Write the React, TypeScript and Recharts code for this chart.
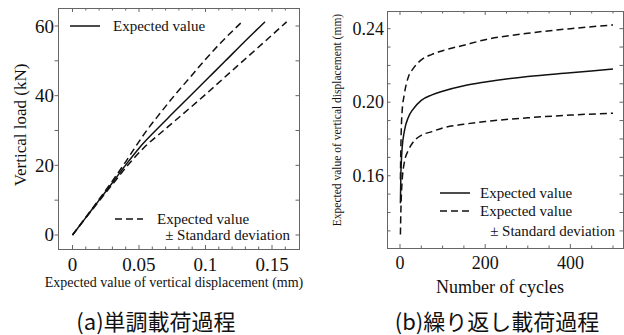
import React from "react";
import { LineChart, Line, XAxis, YAxis } from "recharts";

// (a) monotonic loading: load levels and displacement of each curve
const LOAD_KN = [0, 5, 10, 15, 20, 25, 30, 35, 40, 45, 50, 55, 61.2];
const DISP_MEAN = [0, 0.01, 0.02, 0.03, 0.0398, 0.0502, 0.0625, 0.0755, 0.0886, 0.1018, 0.115, 0.128, 0.1447];
const DISP_STIFF = [0, 0.0098, 0.0195, 0.029, 0.0382, 0.0468, 0.0558, 0.066, 0.0765, 0.0878, 0.099, 0.111, 0.1275];
const DISP_SOFT = [0, 0.0102, 0.0205, 0.031, 0.0415, 0.0535, 0.0685, 0.0838, 0.099, 0.1136, 0.1283, 0.143, 0.161];

const A_X_TICKS = [0, 0.01, 0.02, 0.03, 0.04, 0.05, 0.06, 0.07, 0.08, 0.09, 0.1, 0.11, 0.12, 0.13, 0.14, 0.15, 0.16];
const A_X_LABELS = [0, 0.05, 0.1, 0.15];
const A_Y_TICKS = [0, 10, 20, 30, 40, 50, 60];
const A_Y_LABELS = [0, 20, 40, 60];

// (b) cyclic loading: cycles vs displacement
const CYCLES = [1, 2, 3, 5, 10, 20, 30, 50, 75, 100, 150, 200, 300, 400, 500];
const CYC_MEAN = [0.145, 0.16, 0.167, 0.175, 0.184, 0.192, 0.196, 0.201, 0.204, 0.206, 0.209, 0.211, 0.214, 0.216, 0.218];
const CYC_PLUS = [0.158, 0.175, 0.185, 0.195, 0.204, 0.214, 0.218, 0.223, 0.226, 0.228, 0.231, 0.234, 0.2375, 0.24, 0.242];
const CYC_MINUS = [0.128, 0.14, 0.148, 0.157, 0.167, 0.174, 0.178, 0.182, 0.184, 0.186, 0.188, 0.1895, 0.1915, 0.193, 0.194];

const B_X_TICKS = [0, 50, 100, 150, 200, 250, 300, 350, 400, 450, 500];
const B_X_LABELS = [0, 200, 400];
const B_Y_TICKS = [0.13, 0.14, 0.15, 0.16, 0.17, 0.18, 0.19, 0.2, 0.21, 0.22, 0.23, 0.24];
const B_Y_LABELS = [0.16, 0.2, 0.24];

const SERIF = "Liberation Serif, Times New Roman, DejaVu Serif, serif";
const CJK = "Noto Sans CJK JP, Noto Sans, sans-serif";
const INK = "#111";
const FRAME = "#666";
const DASH = "7 4";

const has = (list: number[], v: number) => list.some((t) => Math.abs(t - v) < 1e-9);

// plot boxes (page px)
const A_BOX = { left: 58, top: 8, w: 241, h: 241 };
const B_BOX = { left: 387, top: 11, w: 236, h: 237 };

function xTick(box: { w: number; h: number }, labels: number[], fmt: (v: number) => string, fs: number) {
  return (props: any) => {
    const { x, y, payload } = props;
    const v = payload.value as number;
    const major = has(labels, v);
    const len = major ? 4 : 2.5;
    return (
      <g>
        <line x1={x} x2={x} y1={y} y2={y - len} stroke={FRAME} />
        <line x1={x} x2={x} y1={y - box.h} y2={y - box.h + len} stroke={FRAME} />
        {major && (
          <text x={x} y={y + 15} textAnchor="middle" dominantBaseline="central" style={{ fontFamily: SERIF, fontSize: fs }} fill={INK}>
            {fmt(v)}
          </text>
        )}
      </g>
    );
  };
}

function yTick(box: { w: number; h: number }, labels: number[], fmt: (v: number) => string, fs: number, outward: boolean) {
  return (props: any) => {
    const { x, y, payload } = props;
    const v = payload.value as number;
    const major = has(labels, v);
    const len = 3.5;
    return (
      <g>
        <line x1={x} x2={outward ? x - len : x + len} y1={y} y2={y} stroke={FRAME} />
        <line x1={x + box.w} x2={x + box.w - len} y1={y} y2={y} stroke={FRAME} />
        {major && (
          <text x={x - (outward ? 4 : 3)} y={y} textAnchor="end" dominantBaseline="central" style={{ fontFamily: SERIF, fontSize: fs }} fill={INK}>
            {fmt(v)}
          </text>
        )}
      </g>
    );
  };
}

const rowsA = (disp: number[]) => LOAD_KN.map((kn, i) => ({ d: disp[i], kn }));
const rowsB = CYCLES.map((n, i) => ({ n, mean: CYC_MEAN[i], plus: CYC_PLUS[i], minus: CYC_MINUS[i] }));

function ChartA() {
  return (
    <LineChart width={312} height={300} margin={{ top: 8, right: 13, bottom: 0, left: 0 }}>
      <XAxis
        dataKey="d"
        type="number"
        domain={[-0.0109, 0.1703]}
        allowDataOverflow
        ticks={A_X_TICKS}
        interval={0}
        height={51}
        tickSize={0}
        tickMargin={0}
        tickLine={false}
        axisLine={false}
        tick={xTick(A_BOX, A_X_LABELS, (v) => String(v), 19)}
      />
      <YAxis
        type="number"
        domain={[-4.02, 65.17]}
        allowDataOverflow
        ticks={A_Y_TICKS}
        interval={0}
        width={58}
        tickSize={0}
        tickMargin={0}
        tickLine={false}
        axisLine={false}
        tick={yTick(A_BOX, A_Y_LABELS, (v) => String(v), 19, true)}
      />
      <Line data={rowsA(DISP_STIFF)} dataKey="kn" type="monotone" stroke={INK} strokeWidth={1.5} strokeDasharray={DASH} dot={false} isAnimationActive={false} />
      <Line data={rowsA(DISP_MEAN)} dataKey="kn" type="monotone" stroke={INK} strokeWidth={1.5} dot={false} isAnimationActive={false} />
      <Line data={rowsA(DISP_SOFT)} dataKey="kn" type="monotone" stroke={INK} strokeWidth={1.5} strokeDasharray={DASH} dot={false} isAnimationActive={false} />
    </LineChart>
  );
}

function ChartB() {
  return (
    <LineChart width={312} height={300} data={rowsB} margin={{ top: 11, right: 1, bottom: 0, left: 0 }}>
      <XAxis
        dataKey="n"
        type="number"
        domain={[-30.5, 523.5]}
        allowDataOverflow
        ticks={B_X_TICKS}
        interval={0}
        height={52}
        tickSize={0}
        tickMargin={0}
        tickLine={false}
        axisLine={false}
        tick={xTick(B_BOX, B_X_LABELS, (v) => String(v), 18)}
      />
      <YAxis
        type="number"
        domain={[0.1207, 0.2496]}
        allowDataOverflow
        ticks={B_Y_TICKS}
        interval={0}
        width={75}
        tickSize={0}
        tickMargin={0}
        tickLine={false}
        axisLine={false}
        tick={yTick(B_BOX, B_Y_LABELS, (v) => v.toFixed(2), 18, false)}
      />
      <Line dataKey="plus" type="monotone" stroke={INK} strokeWidth={1.5} strokeDasharray={DASH} dot={false} isAnimationActive={false} />
      <Line dataKey="mean" type="monotone" stroke={INK} strokeWidth={1.5} dot={false} isAnimationActive={false} />
      <Line dataKey="minus" type="monotone" stroke={INK} strokeWidth={1.5} strokeDasharray={DASH} dot={false} isAnimationActive={false} />
    </LineChart>
  );
}

function Txt(p: { x: number; y: number; size: number; anchor?: "start" | "middle" | "end"; rotate?: boolean; cjk?: boolean; children: React.ReactNode }) {
  return (
    <text
      x={p.x}
      y={p.y}
      textAnchor={p.anchor ?? "start"}
      dominantBaseline="central"
      style={{ fontFamily: p.cjk ? CJK : SERIF, fontSize: p.size }}
      fill={INK}
      transform={p.rotate ? `rotate(-90 ${p.x} ${p.y})` : undefined}
    >
      {p.children}
    </text>
  );
}

export default function App() {
  return (
    <div style={{ position: "absolute", left: 0, top: 0, width: 624, height: 335, background: "#fff", overflow: "hidden" }}>
      <div style={{ position: "absolute", left: 0, top: 0 }}>
        <ChartA />
      </div>
      <div style={{ position: "absolute", left: 312, top: 0 }}>
        <ChartB />
      </div>
      <svg width={624} height={335} style={{ position: "absolute", left: 0, top: 0, pointerEvents: "none" }}>
        {/* frames */}
        <rect x={A_BOX.left + 0.5} y={A_BOX.top + 0.5} width={A_BOX.w} height={A_BOX.h} fill="none" stroke={FRAME} />
        <rect x={B_BOX.left + 0.5} y={B_BOX.top + 0.5} width={B_BOX.w} height={B_BOX.h} fill="none" stroke={FRAME} />

        {/* legend (a) */}
        <line x1={70} x2={100} y1={26} y2={26} stroke={INK} strokeWidth={1.5} />
        <Txt x={113} y={26} size={15}>Expected value</Txt>
        <line x1={115} x2={143} y1={219} y2={219} stroke={INK} strokeWidth={1.5} strokeDasharray={DASH} />
        <Txt x={157} y={219} size={15}>Expected value</Txt>
        <Txt x={290} y={235} size={15} anchor="end">± Standard deviation</Txt>

        {/* legend (b) */}
        <line x1={440} x2={470} y1={193} y2={193} stroke={INK} strokeWidth={1.5} />
        <Txt x={480} y={193} size={15}>Expected value</Txt>
        <line x1={440} x2={470} y1={211} y2={211} stroke={INK} strokeWidth={1.5} strokeDasharray={DASH} />
        <Txt x={480} y={211} size={15}>Expected value</Txt>
        <Txt x={615} y={231} size={15} anchor="end">± Standard deviation</Txt>

        {/* axis titles */}
        <Txt x={20} y={125} size={17} anchor="middle" rotate>Vertical load (kN)</Txt>
        <Txt x={174} y={282} size={14} anchor="middle">Expected value of vertical displacement (mm)</Txt>
        <Txt x={337} y={120} size={11.5} anchor="middle" rotate>Expected value of vertical displacement (mm)</Txt>
        <Txt x={500} y={287} size={18} anchor="middle">Number of cycles</Txt>

        {/* captions */}
        <Txt x={156} y={320} size={22} anchor="middle" cjk>(a)単調載荷過程</Txt>
        <Txt x={497} y={320} size={22} anchor="middle" cjk>(b)繰り返し載荷過程</Txt>
      </svg>
    </div>
  );
}
